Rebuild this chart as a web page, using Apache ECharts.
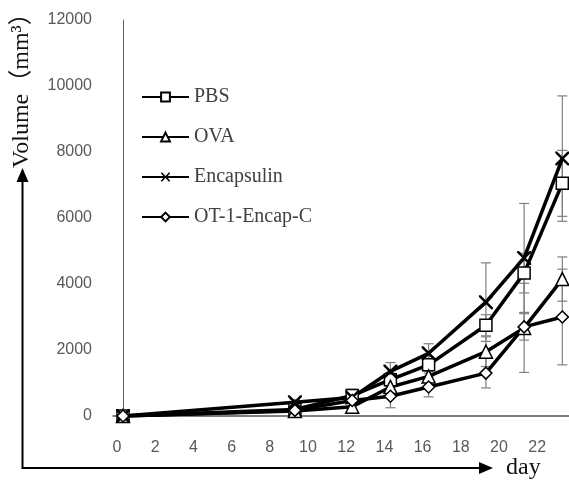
<!DOCTYPE html>
<html>
<head>
<meta charset="utf-8">
<script src="https://cdn.jsdelivr.net/npm/echarts@6/dist/echarts.min.js"></script>
<style>
  html, body { margin: 0; padding: 0; background: #fff; }
  #chart { width: 569px; height: 486px; }
</style>
</head>
<body>
<div id="chart"></div>
<script>
// data
const days = [0, 9, 12, 14, 16, 19, 21, 23];
const xTicks = [0, 2, 4, 6, 8, 10, 12, 14, 16, 18, 20, 22];
const yTicks = [0, 2000, 4000, 6000, 8000, 10000, 12000];

const groups = ['PBS', 'OVA', 'Encapsulin', 'OT-1-Encap-C'];
const pbs = [0, 200, 620, 1100, 1550, 2750, 4330, 7050];
const ova = [0, 150, 280, 880, 1200, 1950, 2670, 4150];
const encapsulin = [0, 420, 560, 1350, 1900, 3450, 4790, 7800];
const ot1 = [0, 170, 470, 600, 880, 1300, 2700, 3000];

const pbsErr = [0, 60, 120, 200, 250, 320, 600, 1000];
const ovaErr = [0, 50, 100, 150, 150, 450, 1350, 670];
const encErr = [0, 80, 250, 270, 290, 1190, 1650, 1900];
const ot1Err = [0, 60, 100, 350, 300, 450, 400, 1450];

const crossPath = 'path://M0,0 L2.5,0 L10,7.5 L17.5,0 L20,0 L20,2.5 L12.5,10 L20,17.5 L20,20 L17.5,20 L10,12.5 L2.5,20 L0,20 L0,17.5 L7.5,10 L0,2.5 Z';

const chart = echarts.init(document.getElementById('chart'));

const lineSeries = (name, values, symbol, size, filled) => ({
  name,
  type: 'line',
  data: days.map((d, i) => [d, values[i]]),
  symbol,
  symbolSize: size,
  showAllSymbol: true,
  z: 3,
  lineStyle: { color: '#000', width: 3.5 },
  itemStyle: filled
    ? { color: '#000', borderWidth: 0 }
    : { color: '#fff', borderColor: '#000', borderWidth: 1.5 },
  emphasis: { disabled: true },
});

const errSeries = (values, errs) => ({
  type: 'custom',
  silent: true,
  z: 1,
  data: days.map((d, i) => [d, values[i] - errs[i], values[i] + errs[i]]),
  renderItem: (params, api) => {
    const lo = api.coord([api.value(0), api.value(1)]);
    const hi = api.coord([api.value(0), api.value(2)]);
    const w = 5;
    const style = { stroke: '#808080', lineWidth: 1.2 };
    return {
      type: 'group',
      children: [
        { type: 'line', shape: { x1: lo[0], y1: lo[1], x2: hi[0], y2: hi[1] }, style },
        { type: 'line', shape: { x1: lo[0] - w, y1: lo[1], x2: lo[0] + w, y2: lo[1] }, style },
        { type: 'line', shape: { x1: hi[0] - w, y1: hi[1], x2: hi[0] + w, y2: hi[1] }, style },
      ],
    };
  },
});

const option = {
  animation: false,
  grid: { left: 113, right: 0, top: 20, bottom: 70 },
  xAxis: {
    type: 'value',
    min: -0.524,
    max: 23.35,
    splitLine: { show: false },
    axisLine: { lineStyle: { color: '#555', width: 1.5 } },
    axisTick: { show: false },
    axisLabel: {
      customValues: xTicks,
      margin: 24,
      padding: [0, 12, 0, 0],
      color: '#595959',
      fontFamily: 'Liberation Sans, Arial',
      fontSize: 16,
    },
  },
  yAxis: {
    type: 'value',
    min: 0,
    max: 12000,
    interval: 2000,
    splitLine: { show: false },
    axisLine: { show: true, lineStyle: { color: '#666', width: 1 } },
    axisTick: { show: false },
    axisLabel: {
      customValues: yTicks,
      formatter: (v) => String(v),
      margin: 21,
      color: '#595959',
      fontFamily: 'Liberation Sans, Arial',
      fontSize: 16,
    },
  },
  legend: {
    data: groups,
    orient: 'vertical',
    left: 136,
    top: 82,
    itemWidth: 47,
    itemHeight: 11,
    itemGap: 20,
    textStyle: {
      color: '#404040',
      fontFamily: 'Liberation Serif, Times New Roman',
      fontSize: 20,
      lineHeight: 20,
    },
  },
  graphic: [
    // outer L-shaped arrows
    {
      type: 'polyline',
      shape: { points: [[22.5, 178], [22.5, 468], [482, 468]] },
      style: { stroke: '#000', lineWidth: 2, fill: null },
    },
    { type: 'polygon', shape: { points: [[22.5, 168], [16.5, 182], [28.5, 182]] }, style: { fill: '#000' } },
    { type: 'polygon', shape: { points: [[493, 468], [479, 462], [479, 474]] }, style: { fill: '#000' } },
    {
      type: 'text',
      x: 506,
      y: 468,
      style: {
        text: 'day',
        fill: '#111',
        font: '24px "Liberation Serif", "Times New Roman", serif',
        verticalAlign: 'middle',
      },
    },
    {
      type: 'text',
      x: 22,
      y: 168,
      rotation: Math.PI / 2,
      style: {
        text: 'Volume（mm³）',
        fill: '#111',
        font: '24px "Liberation Serif", "Noto Sans CJK SC", serif',
        align: 'left',
        verticalAlign: 'middle',
      },
    },
  ],
  series: [
    errSeries(pbs, pbsErr),
    errSeries(ova, ovaErr),
    errSeries(encapsulin, encErr),
    errSeries(ot1, ot1Err),
    lineSeries('PBS', pbs, 'rect', 12, false),
    lineSeries('OVA', ova, 'triangle', 13, false),
    lineSeries('Encapsulin', encapsulin, crossPath, 14, true),
    lineSeries('OT-1-Encap-C', ot1, 'diamond', 12, false),
  ],
};

chart.setOption(option);
</script>
</body>
</html>
